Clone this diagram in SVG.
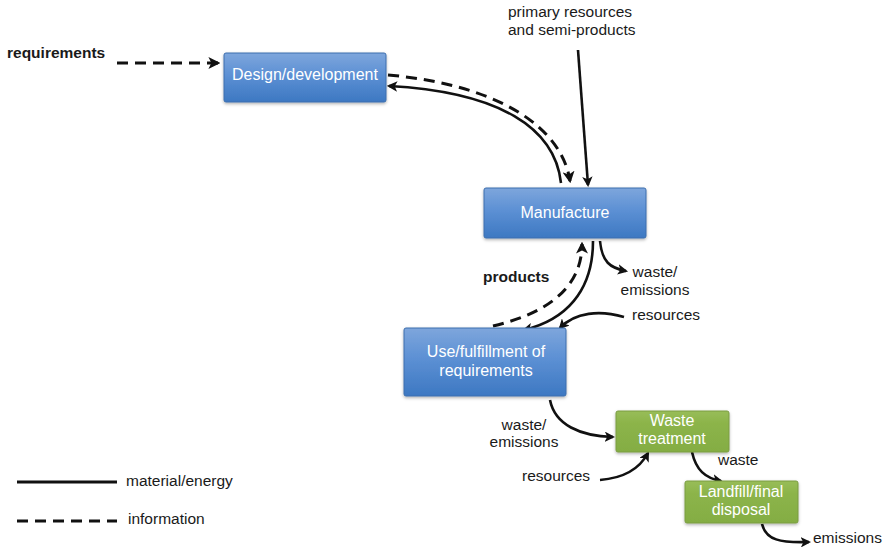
<svg xmlns="http://www.w3.org/2000/svg" width="889" height="553" viewBox="0 0 889 553">
  <defs>
    <linearGradient id="blueFill" x1="0" y1="0" x2="0" y2="1">
      <stop offset="0" stop-color="#7ea6dc"/>
      <stop offset="0.45" stop-color="#5c90d4"/>
      <stop offset="1" stop-color="#3d78c2"/>
    </linearGradient>
    <linearGradient id="greenFill" x1="0" y1="0" x2="0" y2="1">
      <stop offset="0" stop-color="#98bd58"/>
      <stop offset="0.3" stop-color="#8cb44a"/>
      <stop offset="1" stop-color="#84ad43"/>
    </linearGradient>
    <filter id="shadow" x="-10%" y="-10%" width="120%" height="130%">
      <feDropShadow dx="0" dy="1.5" stdDeviation="1.5" flood-color="#000" flood-opacity="0.3"/>
    </filter>
    <marker id="arrow" viewBox="0 0 10 10" refX="8" refY="5" markerWidth="4" markerHeight="4" orient="auto" markerUnits="strokeWidth">
      <path d="M0,0 L10,5 L0,10 L2.5,5 z" fill="#111"/>
    </marker>
  </defs>
  <style>
    text { font-family: "Liberation Sans", Arial, Helvetica, sans-serif; font-size: 15.5px; fill: #1a1a1a; }
    .bold { font-weight: bold; }
    .in { fill: #ffffff; text-anchor: middle; font-size: 16px; }
    .mid { text-anchor: middle; }
    .box-blue { fill: url(#blueFill); stroke: #3d6fae; stroke-width: 1; filter: url(#shadow); }
    .box-green { fill: url(#greenFill); stroke: #7a9c42; stroke-width: 1; filter: url(#shadow); }
    .flow { fill: none; stroke: #111; stroke-width: 2.6; marker-end: url(#arrow); }
    .info { fill: none; stroke: #111; stroke-width: 3; stroke-dasharray: 11 7; marker-end: url(#arrow); }
    .legend-solid { stroke: #111; stroke-width: 3; }
    .legend-dash { stroke: #111; stroke-width: 3; stroke-dasharray: 11 7; }
  </style>

  <rect width="889" height="553" fill="#ffffff"/>

  <!-- connectors -->
  <g id="connectors">
    <path class="info" d="M117,63 L218,63"/>
    <path class="info" d="M388,75 C500,85 562,128 570,181"/>
    <path class="flow" d="M561,183 C555,128 500,92 389,86"/>
    <path class="flow" d="M578,50 L588,185"/>
    <path class="flow" d="M593,241 C593,292 565,320 524,330"/>
    <path class="info" d="M493,326 C540,315 582,292 582,244"/>
    <path class="flow" d="M600,241 C602,262 610,268 626,271"/>
    <path class="flow" d="M624,317 C600,310 575,312 560,328"/>
    <path class="flow" d="M550,400 C555,425 580,436 613,437"/>
    <path class="flow" d="M600,480 C625,478 640,468 648,453"/>
    <path class="flow" d="M692,452 C696,470 705,478 721,481"/>
    <path class="flow" d="M762,524 C766,540 780,543 809,542"/>
  </g>

  <!-- nodes -->
  <g id="design">
    <rect class="box-blue" x="224" y="53" width="162" height="49" rx="2"/>
    <text class="in" x="305" y="80">Design/development</text>
  </g>
  <g id="manufacture">
    <rect class="box-blue" x="484" y="188" width="162" height="50" rx="2"/>
    <text class="in" x="565" y="218">Manufacture</text>
  </g>
  <g id="use">
    <rect class="box-blue" x="404" y="328" width="162" height="68" rx="2"/>
    <text class="in" x="486" y="357">Use/fulfillment of</text>
    <text class="in" x="486" y="376">requirements</text>
  </g>
  <g id="waste-treatment">
    <rect class="box-green" x="616" y="411" width="113" height="41" rx="2"/>
    <text class="in" x="672" y="426">Waste</text>
    <text class="in" x="672" y="444">treatment</text>
  </g>
  <g id="landfill">
    <rect class="box-green" x="685" y="481" width="113" height="42" rx="2"/>
    <text class="in" x="741" y="497">Landfill/final</text>
    <text class="in" x="741" y="515">disposal</text>
  </g>

  <!-- free labels -->
  <g id="labels">
    <text class="bold" x="7" y="58">requirements</text>
    <text x="508" y="17">primary resources</text>
    <text x="508" y="35">and semi-products</text>
    <text class="bold" x="483" y="282">products</text>
    <text class="mid" x="655" y="277">waste/</text>
    <text class="mid" x="655" y="295">emissions</text>
    <text x="632" y="320">resources</text>
    <text class="mid" x="524" y="430">waste/</text>
    <text class="mid" x="524" y="447">emissions</text>
    <text x="522" y="481">resources</text>
    <text x="718" y="465">waste</text>
    <text x="813" y="543">emissions</text>
  </g>

  <!-- legend -->
  <g id="legend">
    <line class="legend-solid" x1="17" y1="482" x2="117" y2="482"/>
    <text x="126" y="486">material/energy</text>
    <line class="legend-dash" x1="17" y1="521" x2="117" y2="521"/>
    <text x="128" y="524">information</text>
  </g>
</svg>
